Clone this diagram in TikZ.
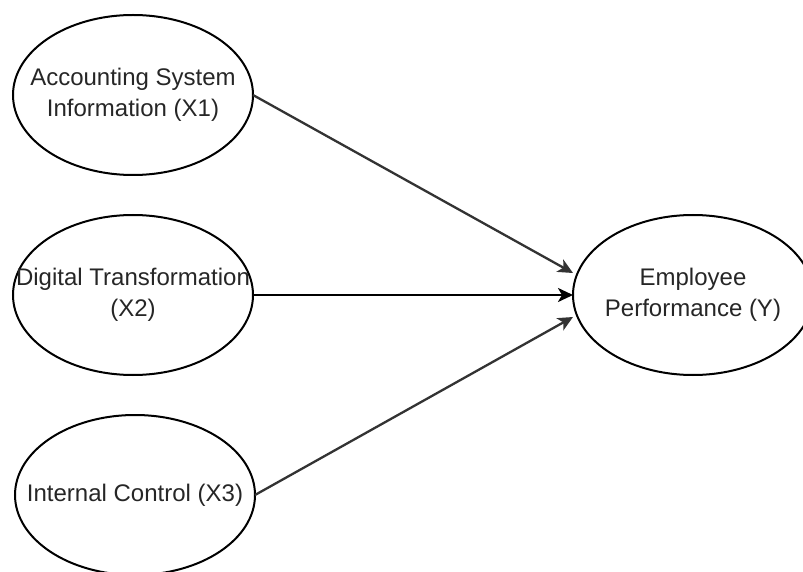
\documentclass[tikz,border=0pt]{standalone}
\usepackage{fontspec}
\setmainfont{Liberation Sans}
\usetikzlibrary{shapes.geometric,arrows.meta}
\begin{document}
\begin{tikzpicture}[x=1pt,y=-1pt,
  var/.style={ellipse,draw=black,line width=2pt,minimum width=240pt,minimum height=160pt,
    inner sep=0pt,outer sep=0pt},
  lbl/.style={inner sep=0pt,align=center,text=black!85,
    font=\fontsize{24}{31}\selectfont},
  link/.style={draw=black!80,line width=2.3pt,-{Stealth[length=15pt,width=14pt,inset=4pt]}}]
\useasboundingbox (0,0) rectangle (803,572);
\begin{scope}
\clip (0,0) rectangle (803,572);
\node[var] (X1) at (133,95) {};
\node[var] (X2) at (133,295) {};
\node[var] (X3) at (135,495) {};
\node[var] (Y) at (693,295) {};
\end{scope}
\node[lbl] (X1t) at (X1.center) {Accounting System\\Information (X1)};
\node[lbl] (X2t) at (X2.center) {Digital Transformation\\(X2)};
\node[lbl] (X3t) at (X3.center) {Internal Control (X3)};
\node[lbl] (Yt) at (Y.center) {Employee\\Performance (Y)};
\draw[link] (X1.east) -- ([yshift=22pt]Y.west);
\draw[link,draw=black] (X2.east) -- (Y.west);
\draw[link] (X3.east) -- ([yshift=-22pt]Y.west);
\end{tikzpicture}
\end{document}
